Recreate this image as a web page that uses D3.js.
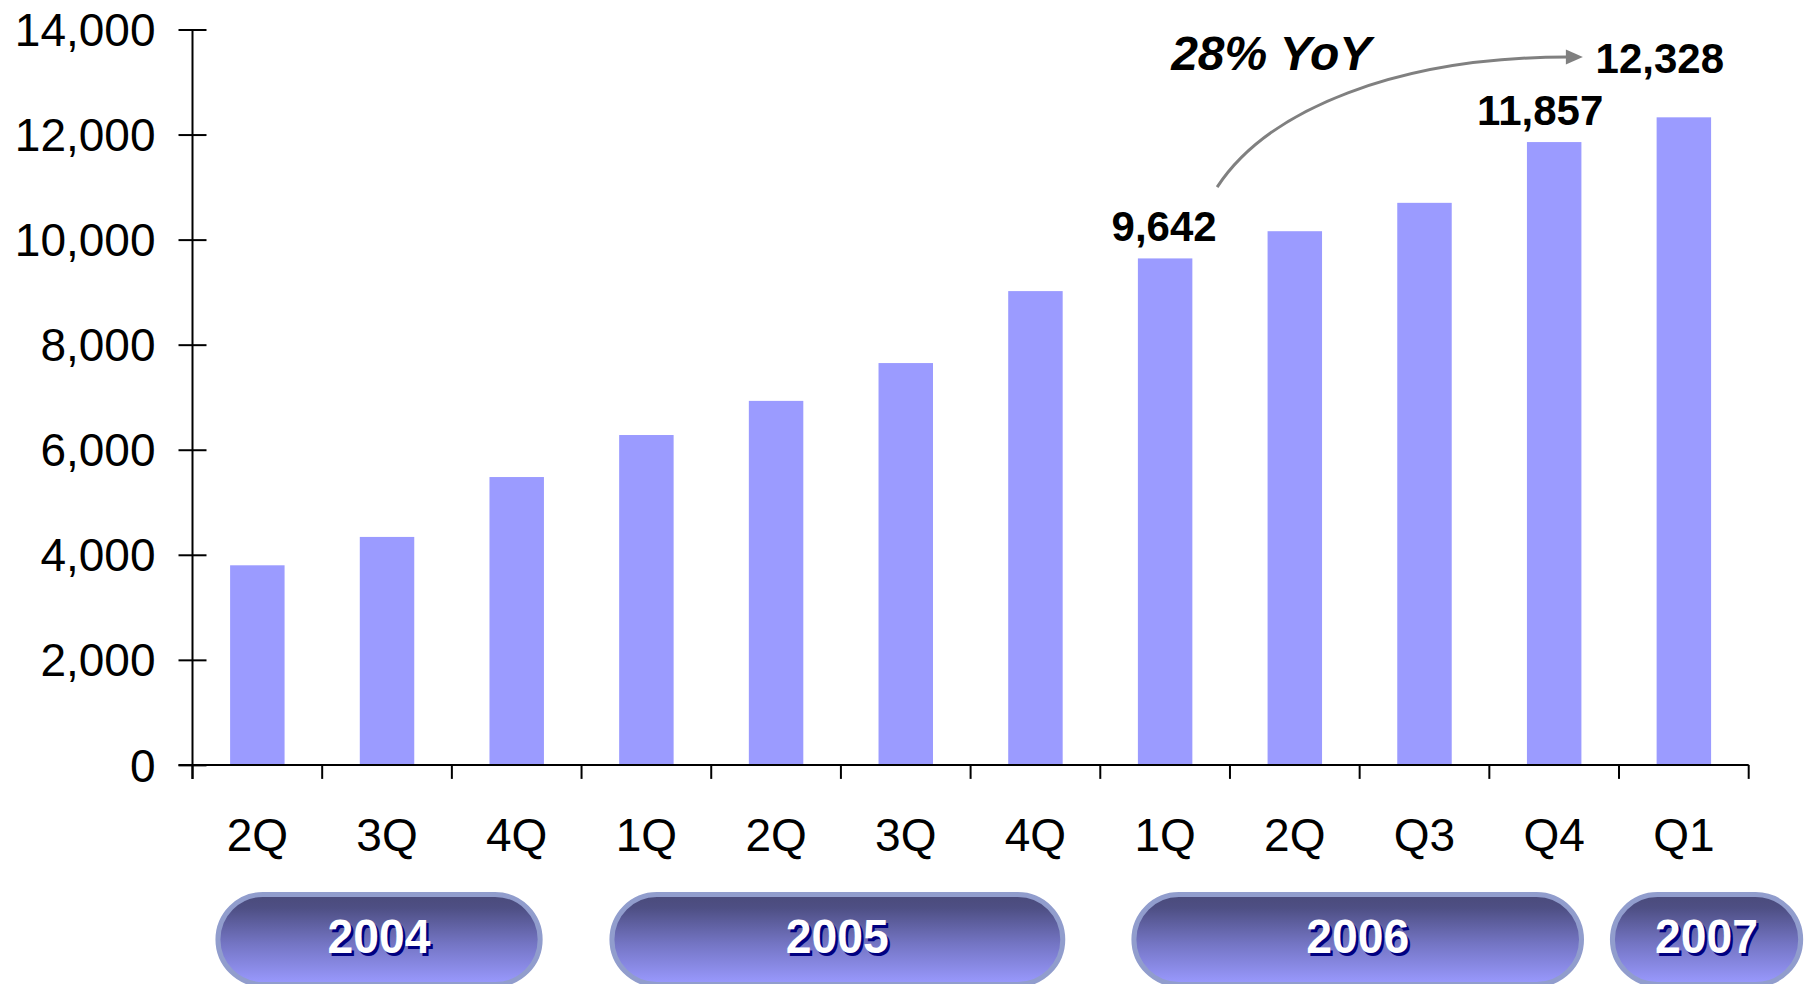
<!DOCTYPE html>
<html>
<head>
<meta charset="utf-8">
<script src="https://cdn.jsdelivr.net/npm/d3@7"></script>
<style>
  html, body { margin: 0; padding: 0; background: #ffffff; }
  svg { display: block; }
</style>
</head>
<body>
<svg id="chart" width="1818" height="984"></svg>
<script>
// ---- data ----
const categories = ["2Q", "3Q", "4Q", "1Q", "2Q", "3Q", "4Q", "1Q", "2Q", "Q3", "Q4", "Q1"];
const values = [3800, 4340, 5480, 6280, 6930, 7650, 9020, 9642, 10160, 10700, 11857, 12328];
const yTicks = [0, 2000, 4000, 6000, 8000, 10000, 12000, 14000];
const years = ["2004", "2005", "2006", "2007"];
const yearStart = [0, 3, 7, 11];
const yearEnd = [2, 6, 10, 11];
const labelled = [7, 10, 11];
const annotationText = "28% YoY";

// ---- layout ----
const W = 1818, H = 984;
const plot = { left: 192.5, right: 1748.7, top: 29.5, bottom: 764.9 };
const font = "'Liberation Sans', Arial, Helvetica, sans-serif";
const barColor = "#9B9BFF";
// per-pill horizontal extents in band units (start offset, end offset)
const pillSpan = [[0.177, 2.70], [3.215, 6.73], [7.24, 10.73], [10.93, 12.42]];
// data-label offsets (dx from band centre, dy above bar top)
const labelOffset = { 7: [-1, -17.5], 10: [-14, -17], 11: [-24, -44] };

const svg = d3.select("#chart");

const idx = d3.range(categories.length);
const x = d3.scaleBand().domain(idx).range([plot.left, plot.right])
  .paddingInner(0.58).paddingOuter(0.29);
const step = x.step();
const xc = i => x(i) + x.bandwidth() / 2;
const y = d3.scaleLinear().domain([0, 14000]).range([plot.bottom, plot.top]);

// ---- bars ----
svg.append("g").selectAll("rect").data(values).join("rect")
  .attr("x", (d, i) => x(i))
  .attr("y", d => y(d))
  .attr("width", x.bandwidth())
  .attr("height", d => y(0) - y(d))
  .attr("fill", barColor);

// ---- y axis ----
const yAxis = svg.append("g")
  .attr("transform", `translate(${plot.left},0)`)
  .call(d3.axisLeft(y).tickValues(yTicks).tickFormat(d3.format(",")).tickSize(14).tickPadding(23).tickSizeOuter(0));
yAxis.select(".domain").remove();
yAxis.selectAll(".tick line").attr("x1", 14).attr("stroke", "#000").attr("stroke-width", 2);
yAxis.selectAll(".tick text")
  .attr("font-family", font).attr("font-size", 46).attr("fill", "#000").attr("dy", "0.35em");
svg.append("line")
  .attr("x1", plot.left).attr("x2", plot.left)
  .attr("y1", y(14000)).attr("y2", plot.bottom + 14)
  .attr("stroke", "#000").attr("stroke-width", 2);

// ---- x axis ----
svg.append("line")
  .attr("x1", plot.left - 14).attr("x2", plot.right)
  .attr("y1", plot.bottom).attr("y2", plot.bottom)
  .attr("stroke", "#000").attr("stroke-width", 2);
const bounds = d3.range(categories.length + 1).map(i => plot.left + i * step);
svg.append("g").selectAll("line").data(bounds).join("line")
  .attr("x1", d => d).attr("x2", d => d)
  .attr("y1", plot.bottom).attr("y2", plot.bottom + 14)
  .attr("stroke", "#000").attr("stroke-width", 2);
svg.append("g").selectAll("text").data(categories).join("text")
  .attr("x", (d, i) => xc(i))
  .attr("y", 851)
  .attr("text-anchor", "middle")
  .attr("font-family", font).attr("font-size", 46).attr("fill", "#000")
  .text(d => d);

// ---- data labels ----
svg.append("g").selectAll("text").data(labelled).join("text")
  .attr("x", i => xc(i) + labelOffset[i][0])
  .attr("y", i => y(values[i]) + labelOffset[i][1])
  .attr("text-anchor", "middle")
  .attr("font-family", font).attr("font-weight", "bold").attr("font-size", 42).attr("fill", "#000")
  .text(i => d3.format(",")(values[i]));

// ---- YoY annotation ----
const a0 = [xc(7) + 52, y(11000)];
const tipY = y(14000) + 27.5;
const tipX = xc(11) - 101;
const path = d3.path();
path.moveTo(a0[0], a0[1]);
path.bezierCurveTo(a0[0] + 51, a0[1] - 78, a0[0] + 181, tipY, tipX - 15, tipY);
svg.append("path").attr("d", path.toString())
  .attr("fill", "none").attr("stroke", "#808080").attr("stroke-width", 3);
svg.append("path")
  .attr("d", `M${tipX},${tipY} L${tipX - 17},${tipY - 7.5} L${tipX - 17},${tipY + 7.5} Z`)
  .attr("fill", "#808080");
svg.append("text")
  .attr("x", xc(7) + 6).attr("y", y(14000) + 40)
  .attr("font-family", font).attr("font-weight", "bold").attr("font-style", "italic")
  .attr("font-size", 48).attr("fill", "#000")
  .text(annotationText);

// ---- year pills ----
const defs = svg.append("defs");
const grad = defs.append("linearGradient").attr("id", "pillGrad")
  .attr("x1", 0).attr("y1", 0).attr("x2", 0).attr("y2", 1);
grad.append("stop").attr("offset", "0%").attr("stop-color", "#4A4A7A");
grad.append("stop").attr("offset", "15%").attr("stop-color", "#4E4F84");
grad.append("stop").attr("offset", "55%").attr("stop-color", "#7475C4");
grad.append("stop").attr("offset", "100%").attr("stop-color", "#9A9AFF");

const pillTop = 892, pillH = 95, sw = 5;
const pills = svg.append("g").selectAll("g").data(years).join("g");
pills.append("rect")
  .attr("x", (d, i) => plot.left + pillSpan[i][0] * step + sw / 2)
  .attr("y", pillTop + sw / 2)
  .attr("width", (d, i) => (pillSpan[i][1] - pillSpan[i][0]) * step - sw)
  .attr("height", pillH - sw)
  .attr("rx", (pillH - sw) / 2).attr("ry", (pillH - sw) / 2)
  .attr("fill", "url(#pillGrad)")
  .attr("stroke", "#919DCD").attr("stroke-width", sw);
const pillCx = i => plot.left + (pillSpan[i][0] + pillSpan[i][1]) / 2 * step;
pills.append("text")
  .attr("x", (d, i) => pillCx(i) + 2.5).attr("y", 953 + 2.5)
  .attr("text-anchor", "middle")
  .attr("font-family", font).attr("font-weight", "bold").attr("font-size", 49)
  .attr("textLength", 103).attr("lengthAdjust", "spacingAndGlyphs")
  .attr("fill", "#000080")
  .text(d => d);
pills.append("text")
  .attr("x", (d, i) => pillCx(i)).attr("y", 953)
  .attr("text-anchor", "middle")
  .attr("font-family", font).attr("font-weight", "bold").attr("font-size", 49)
  .attr("textLength", 103).attr("lengthAdjust", "spacingAndGlyphs")
  .attr("fill", "#ffffff")
  .text(d => d);
</script>
</body>
</html>
